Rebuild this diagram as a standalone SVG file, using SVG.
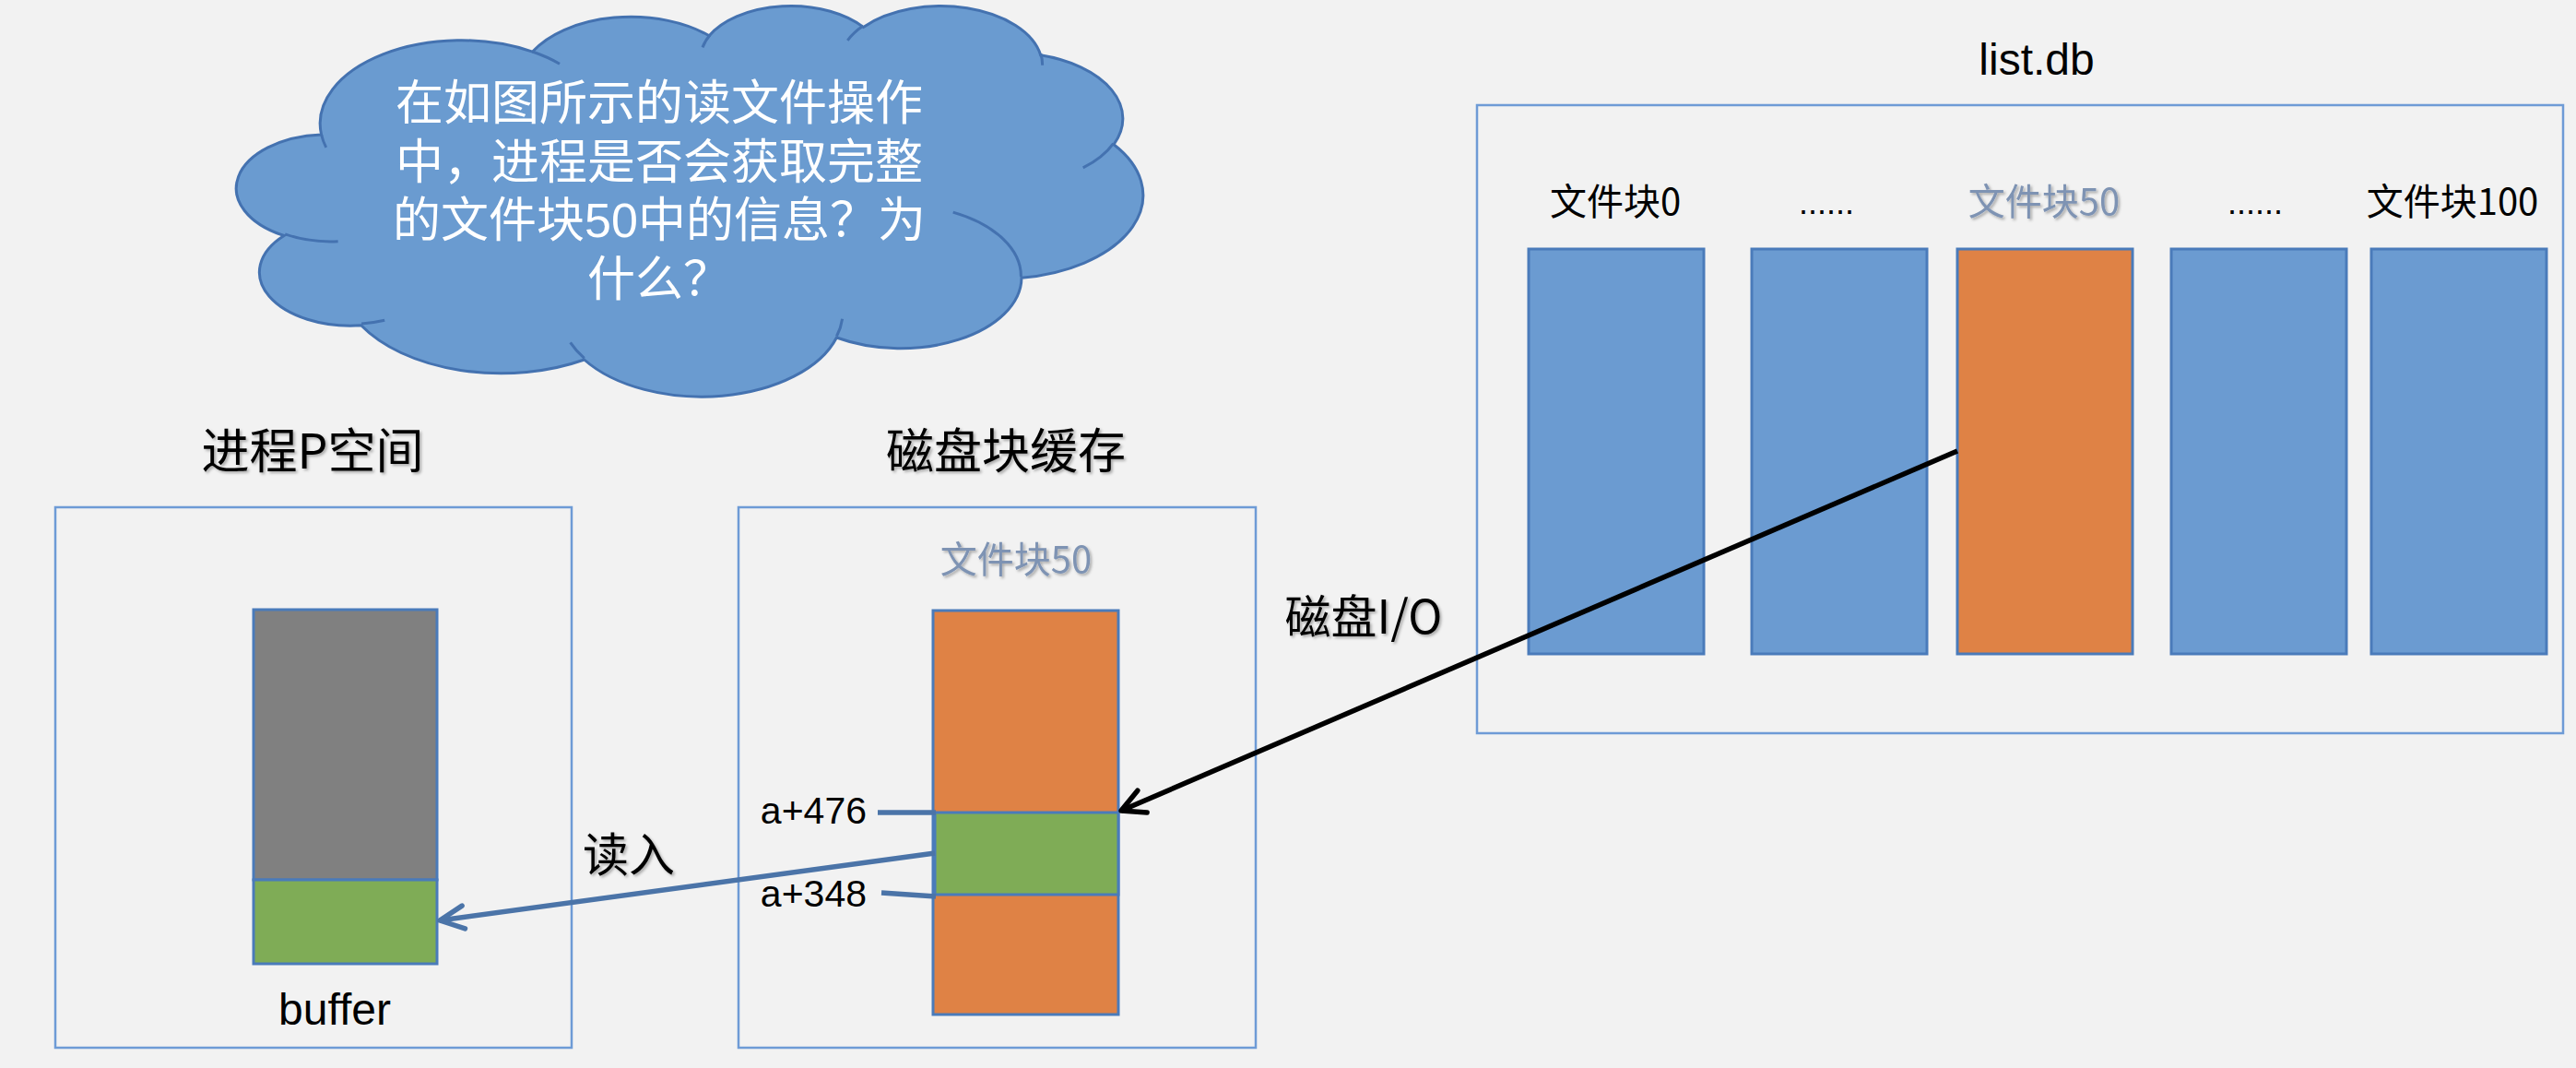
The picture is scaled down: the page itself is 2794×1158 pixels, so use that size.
<svg xmlns="http://www.w3.org/2000/svg" width="2794" height="1158" viewBox="0 0 2794 1158">
<style>
.bg{fill:#F2F2F2}
.box{fill:none;stroke:#6E9BD6;stroke-width:2.5}
.blk{fill:#6B9BD1;stroke:#4A7BBA;stroke-width:3}
.org{fill:#DF8245;stroke:#4A7BBA;stroke-width:3}
.grn{fill:#7FAC56;stroke:#4A7BBA;stroke-width:3}
.gry{fill:#808080;stroke:#4A7BBA;stroke-width:3}
.cjk{font-family:"Noto Sans CJK SC","Noto Sans",sans-serif}
.mix{font-family:"Liberation Sans","Noto Sans CJK SC",sans-serif}
.lat{font-family:"Liberation Sans",Arial,sans-serif}
.t52{font-size:52px;fill:#000}
.t40{font-size:40px;fill:#000}
.pale{font-size:40px;fill:#7E93B3}
.mid{text-anchor:middle}
.cloud{fill:#6A9BD0;stroke:#4472B0;stroke-width:3}
.stub{fill:none;stroke:#4472B0;stroke-width:3}
.ctext{font-size:52px;fill:#FFFFFF;text-anchor:middle}
.blueLine{fill:none;stroke:#4B74A8;stroke-width:5.5}
</style>
<defs>
<filter id="sh" x="-10%" y="-30%" width="130%" height="160%">
<feDropShadow dx="2" dy="2" stdDeviation="1.5" flood-color="#000" flood-opacity="0.3"/>
</filter>
<marker id="ahBlack" markerUnits="userSpaceOnUse" markerWidth="40" markerHeight="40" refX="0" refY="0" orient="auto" overflow="visible">
<path d="M-25,-13 L0,0 L-25,13" fill="none" stroke="#000" stroke-width="5.5" stroke-linecap="round" stroke-linejoin="round"/>
</marker>
<marker id="ahBlue" markerUnits="userSpaceOnUse" markerWidth="40" markerHeight="40" refX="0" refY="0" orient="auto" overflow="visible">
<path d="M-26,-12.5 L0,0 L-26,12.5" fill="none" stroke="#4B74A8" stroke-width="5.5" stroke-linecap="round" stroke-linejoin="round"/>
</marker>
</defs>
<rect class="bg" x="0" y="0" width="2794" height="1158"/>

<g id="cloud">
<path class="cloud" d="M348.6,146.0 A153.06,90.1 0 0 1 577.6,56.1 A120.87,71.25 0 0 1 769.2,38.8 A98.93,58.28 0 0 1 936.4,29.4 A110.08,64.66 0 0 1 1128.7,59.8 A120.87,71.3 0 0 1 1208.1,156.7 A153.56,90.39 0 0 1 1108.0,301.2 A131.12,77.13 0 0 1 907.4,366.0 A153.03,90.34 0 0 1 633.7,390.0 A174.97,103.36 0 0 1 391.7,352.8 A98.82,58.02 0 0 1 308.1,255.5 A98.48,58.28 0 0 1 348.6,146.0 Z"/>
<path class="stub" d="M366.6,261.7 A98.48,58.28 0 0 1 309.2,253.9 M417.2,347.3 A98.82,58.02 0 0 1 392.1,351.0 M633.7,388.3 A153.03,90.34 0 0 1 618.6,371.3 M913.6,345.8 A153.03,90.34 0 0 1 907.5,364.5 M1033.7,230.1 A131.12,77.13 0 0 1 1107.4,300.1 M1207.6,155.6 A120.87,71.3 0 0 1 1174.7,181.9 M1128.8,58.3 A110.08,64.66 0 0 1 1130.6,70.7 M919.3,43.8 A110.08,64.66 0 0 1 936.1,28.0 M762.0,51.4 A98.93,58.28 0 0 1 770.2,37.8 M577.5,56.0 A153.06,90.1 0 0 1 607.0,69.2 M353.7,159.9 A153.06,90.1 0 0 1 348.6,146.0"/>
<text class="mix ctext"><tspan x="715" y="130">在如图所示的读文件操作</tspan><tspan x="715" y="193.5">中，进程是否会获取完整</tspan><tspan x="715" y="257">的文件块50中的信息？为</tspan><tspan x="715" y="320.5">什么？</tspan></text>
</g>

<g id="process-space">
<text class="cjk t52 mid" x="339" y="508" filter="url(#sh)">进程P空间</text>
<rect class="box" x="60" y="550" width="560" height="586"/>
<rect class="gry" x="275" y="661" width="199" height="293"/>
<rect class="grn" x="275" y="954" width="199" height="91"/>
<text class="lat mid" x="363" y="1111" font-size="48" fill="#000">buffer</text>
</g>

<g id="disk-cache">
<text class="cjk t52 mid" x="1091" y="508" filter="url(#sh)">磁盘块缓存</text>
<rect class="box" x="801" y="550" width="561" height="586"/>
<text class="cjk pale mid" x="1102" y="621" filter="url(#sh)">文件块50</text>
<rect class="org" x="1012" y="662" width="201" height="438"/>
<rect class="grn" x="1014" y="881" width="199" height="89"/>
<text class="lat" x="940" y="893" font-size="41" text-anchor="end" fill="#000">a+476</text>
<text class="lat" x="940" y="983" font-size="41" text-anchor="end" fill="#000">a+348</text>
</g>

<g id="list-db">
<text class="lat mid" x="2209" y="81" font-size="48" fill="#000">list.db</text>
<rect class="box" x="1602" y="114" width="1178" height="681"/>
<text class="cjk t40 mid" x="1752" y="233">文件块0</text>
<text class="lat mid" x="1981" y="232" font-size="36" fill="#000">......</text>
<text class="cjk pale mid" x="2217" y="233" filter="url(#sh)">文件块50</text>
<text class="lat mid" x="2446" y="232" font-size="36" fill="#000">......</text>
<text class="cjk t40 mid" x="2660" y="233">文件块100</text>
<rect class="blk" x="1658" y="270" width="190" height="439"/>
<rect class="blk" x="1900" y="270" width="190" height="439"/>
<rect class="org" x="2123" y="270" width="190" height="439"/>
<rect class="blk" x="2355" y="270" width="190" height="439"/>
<rect class="blk" x="2572" y="270" width="190" height="439"/>
</g>

<g id="connectors">
<line x1="2123" y1="489" x2="1216" y2="879" stroke="#000" stroke-width="5.5" marker-end="url(#ahBlack)"/>
<text class="cjk mid" x="1479" y="687" font-size="50" fill="#000" filter="url(#sh)">磁盘I/O</text>
<line class="blueLine" x1="1014" y1="925" x2="477" y2="998" marker-end="url(#ahBlue)"/>
<text class="cjk mid" x="682" y="945" font-size="50" fill="#000" filter="url(#sh)">读入</text>
<line class="blueLine" x1="952" y1="881" x2="1015" y2="881"/>
<line class="blueLine" x1="956" y1="968" x2="1015" y2="972"/>
</g>
</svg>
